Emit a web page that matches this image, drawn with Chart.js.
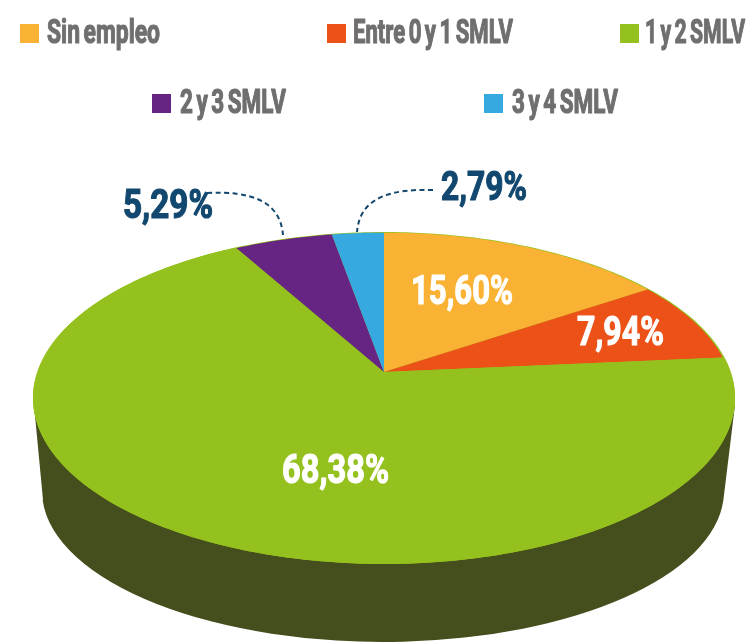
<!DOCTYPE html>
<html>
<head>
<meta charset="utf-8">
<title>Ingresos</title>
<script src="https://cdn.jsdelivr.net/npm/chart.js@4"></script>
<style>
    html, body { margin: 0; padding: 0; background: #fff; overflow: hidden; }
    canvas { display: block; }
</style>
</head>
<body>
<canvas id="pieChart" width="748" height="642"></canvas>
<script>
// Chart data
const categories = ['Sin empleo', 'Entre 0 y 1 SMLV', '1 y 2 SMLV', '2 y 3 SMLV', '3 y 4 SMLV'];
const shares = [15.60, 7.94, 68.38, 5.29, 2.79];
const sliceColors = ['#F9B233', '#EC5118', '#95C11F', '#662483', '#36A9E1'];

const SIDE_COLOR = '#454F1E';
const LEGEND_COLOR = '#6F6F6F';
const NAVY = '#12486F';
const FONT_FAMILY = 'Roboto, sans-serif';

// Perspective of the disc: apex position, scale and foreshortening
const disc = { cx: 384, cy: 372, a: 346.7, b: 161.9, k: 0.1566 };
// Lower rim of the extruded side
const rim = { cx: 383, cy: 491, rx: 341, ry: 151 };

// Legend layout: [box x, text start, text end, box top, baseline]
const legendSpots = [
    [20, 47, 160, 24, 43],
    [327, 353, 513, 24, 43],
    [620, 645, 745, 24, 43],
    [152, 180, 286, 94, 113],
    [484, 512, 618, 94, 113]
];
// Value label layout: [text start, text end, baseline, colour]
const labelSpots = [
    [411, 513, 304, '#fff'],
    [577, 664, 345, '#fff'],
    [282, 389, 483, '#fff'],
    [123, 213, 218, NAVY],
    [441, 527, 200, NAVY]
];

// Project an angle and radius of the flat pie onto the tilted disc
function project(angle, r = 1) {
    const u = Math.cos(angle) * r;
    const v = Math.sin(angle) * r;
    const w = 1 - disc.k * v;
    return [disc.cx + disc.a * u / w, disc.cy + disc.b * v / w];
}

// Draw text squeezed to fit between x0 and x1, thickened with a stroke
function fitText(ctx, text, x0, x1, baseline, font, color, heft, wordGap) {
    ctx.save();
    ctx.font = font;
    ctx.wordSpacing = wordGap;
    ctx.fillStyle = color;
    ctx.strokeStyle = color;
    ctx.lineWidth = heft;
    ctx.lineJoin = 'round';
    ctx.textAlign = 'left';
    ctx.textBaseline = 'alphabetic';
    const width = ctx.measureText(text).width;
    ctx.translate(x0, baseline);
    ctx.scale((x1 - x0) / width, 1);
    ctx.fillText(text, 0, 0);
    ctx.strokeText(text, 0, 0);
    ctx.restore();
}

function drawSide(ctx) {
    ctx.save();
    ctx.fillStyle = SIDE_COLOR;
    ctx.beginPath();
    ctx.moveTo(34, 405);
    ctx.lineTo(rim.cx - rim.rx + 1, 500);
    ctx.ellipse(rim.cx, rim.cy, rim.rx, rim.ry, 0, Math.PI - 0.06, 0.06, true);
    ctx.lineTo(735, 405);
    ctx.closePath();
    ctx.fill();
    ctx.restore();
}

function drawSlice(ctx, start, end, color, r) {
    ctx.fillStyle = color;
    ctx.beginPath();
    ctx.moveTo(disc.cx, disc.cy);
    const steps = Math.ceil((end - start) * 60);
    for (let i = 0; i <= steps; i++) {
        const p = project(start + (end - start) * i / steps, r);
        ctx.lineTo(p[0], p[1]);
    }
    ctx.closePath();
    ctx.fill();
}

function drawLeaders(ctx) {
    ctx.save();
    ctx.strokeStyle = NAVY;
    ctx.lineWidth = 2;
    ctx.setLineDash([5, 3.5]);
    ctx.beginPath();
    ctx.moveTo(207, 193);
    ctx.bezierCurveTo(250, 191, 280, 200, 283, 235);
    ctx.stroke();
    ctx.beginPath();
    ctx.moveTo(433, 190);
    ctx.bezierCurveTo(395, 189, 360, 195, 357, 232);
    ctx.stroke();
    ctx.restore();
}

// Replaces the flat arcs with the tilted 3D disc
const tiltedPie = {
    id: 'tiltedPie',
    beforeDatasetsDraw(chart) {
        const ctx = chart.ctx;
        const arcs = chart.getDatasetMeta(0).data;
        const colors = chart.data.datasets[0].backgroundColor;
        drawSide(ctx);
        // green shows as a thin rim behind the other slices
        drawSlice(ctx, 0, Math.PI * 2, colors[2], 1);
        arcs.forEach((arc, i) => {
            drawSlice(ctx, arc.startAngle, arc.endAngle, colors[i], i === 2 ? 1 : 0.995);
        });
        return false;
    },
    afterDraw(chart) {
        const ctx = chart.ctx;
        drawLeaders(ctx);
        chart.data.datasets[0].data.forEach((value, i) => {
            const spot = labelSpots[i];
            const text = value.toFixed(2).replace('.', ',') + '%';
            fitText(ctx, text, spot[0], spot[1], spot[2], 'bold 41px ' + FONT_FAMILY, spot[3], 1.2, '0px');
        });
        chart.data.labels.forEach((label, i) => {
            const spot = legendSpots[i];
            ctx.fillStyle = chart.data.datasets[0].backgroundColor[i];
            ctx.fillRect(spot[0], spot[3], 19, 19);
            fitText(ctx, label, spot[1], spot[2], spot[4], 'bold 33px ' + FONT_FAMILY, LEGEND_COLOR, 1.2, '-3px');
        });
    }
};

new Chart(document.getElementById('pieChart'), {
    type: 'pie',
    data: {
        labels: categories,
        datasets: [{
            data: shares,
            backgroundColor: sliceColors,
            borderWidth: 0
        }]
    },
    options: {
        responsive: false,
        animation: false,
        plugins: {
            legend: { display: false },
            tooltip: { enabled: false }
        }
    },
    plugins: [tiltedPie]
});
</script>
</body>
</html>
